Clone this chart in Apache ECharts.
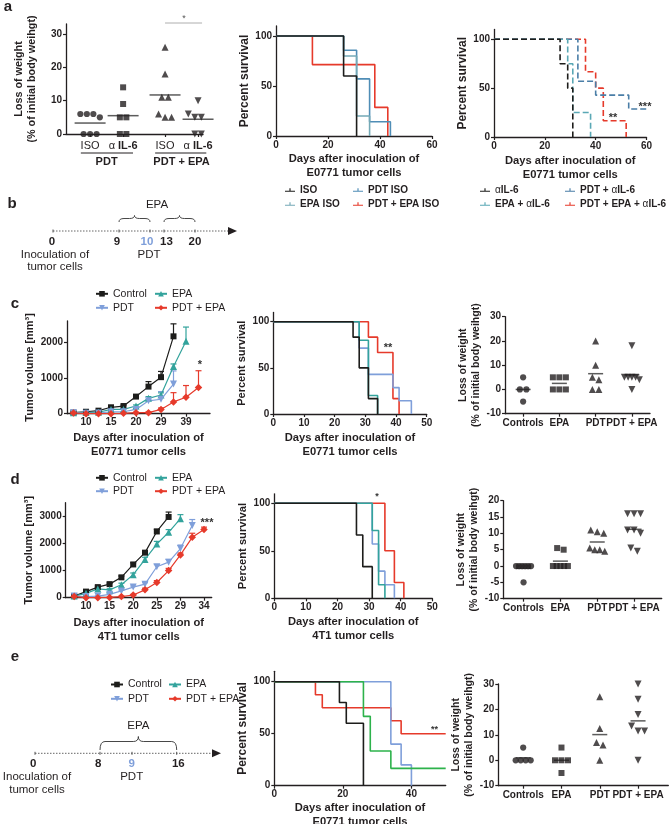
<!DOCTYPE html>
<html><head><meta charset="utf-8">
<script src="https://cdn.jsdelivr.net/npm/echarts@6/dist/echarts.min.js"></script>
<style>html,body{margin:0;padding:0;background:#fff}#c{width:669px;height:824px}</style>
</head><body><div id="c"></div>
<script>
// ================= DATA =================
// Panel a – weight loss
const aCats = ['ISO', 'α IL-6', 'ISO', 'α IL-6'];
const aGroupLabels = ['PDT', 'PDT + EPA'];
const aLossIsoPdt = [6, 6, 5, 6, 0, 0, 0];
const aLossIl6Pdt = [14, 9, 5, 5, 0, 0];
const aLossIsoPdtEpa = [26, 18, 11, 11, 6, 5, 5];
const aLossIl6PdtEpa = [10, 6, 5, 5, 5, 0, 0];
const aLossTicks = [0, 10, 20, 30];
// Panel a – survival (ISO)
const aSurvNames = ['ISO', 'PDT ISO', 'EPA ISO', 'PDT + EPA ISO'];
const aSurvIso = [[0, 100], [26, 60], [31, 0]];
const aSurvPdtIso = [[0, 100], [26, 85.7], [31, 57.1], [36, 14.3], [44, 0]];
const aSurvEpaIso = [[0, 100], [26, 80], [31, 20], [36, 0]];
const aSurvPdtEpaIso = [[0, 100], [14, 71.4], [38, 28.6], [43, 0]];
// Panel a – survival (anti IL-6)
const aIl6Names = ['αIL-6', 'PDT + αIL-6', 'EPA + αIL-6', 'PDT + EPA + αIL-6'];
const aSurvIl6 = [[0, 100], [26, 75], [29, 50], [31, 0]];
const aSurvPdtIl6 = [[0, 100], [33, 57.1], [40, 42.9], [53, 28.6], [60, 28.6]];
const aSurvEpaIl6 = [[0, 100], [29, 75], [31, 25], [38, 0]];
const aSurvPdtEpaIl6 = [[0, 100], [36, 66.7], [40, 50], [43, 16.7], [52, 0]];
const survTicks60 = [0, 20, 40, 60];
const survTicks50 = [0, 10, 20, 30, 40, 50];
const survTicksE = [0, 20, 40];
const survYTicks = [0, 50, 100];

// Panel b / e timelines
const bDays = ['0', '9', '10', '13', '20'];
const eDays = ['0', '8', '9', '16'];

// Group names (c, d, e)
const grpNames = ['Control', 'EPA', 'PDT', 'PDT + EPA'];
const weightCats = ['Controls', 'EPA', 'PDT', 'PDT + EPA'];

// Panel c – tumour growth E0771
const cDayLabels = ['', '10', '', '15', '', '20', '', '29', '', '39', ''];
const cControl = [30, 55, 85, 180, 215, 480, 760, 1025, 2170];
const cControlErr = [10, 10, 15, 20, 25, 40, 140, 160, 350];
const cEPA = [30, 35, 40, 120, 120, 215, 430, 525, 1325, 2030];
const cEPAErr = [10, 10, 10, 20, 20, 30, 50, 60, 70, 400];
const cPDT = [30, 10, 20, 55, 55, 120, 360, 405, 830];
const cPDTErr = [10, 5, 5, 10, 10, 20, 40, 215, 370];
const cPDTEPA = [20, 0, 0, 0, 10, 30, 30, 120, 330, 460, 735];
const cPDTEPAErr = [5, 2, 2, 2, 5, 10, 20, 40, 260, 330, 470];
const cVolTicks = [0, 1000, 2000];
// Panel c – survival
const cSurvControl = [[0, 100], [26, 83.3], [28, 50], [31, 16.7], [34, 0]];
const cSurvEPA = [[0, 100], [28, 80], [31, 20], [34, 0]];
const cSurvPDT = [[0, 100], [28, 71.4], [31, 42.9], [39, 28.6], [41, 14.3], [45, 0]];
const cSurvPDTEPA = [[0, 100], [31, 83.3], [34, 66.7], [39, 16.7], [41, 0]];
// Panel c – weight loss
const cWControls = [5, 0, 0, -5];
const cWEPA = [5, 5, 5, 0, 0, 0];
const cWPDT = [20, 10, 5, 4, 0, 0];
const cWPDTEPA = [18, 5, 5, 5, 5, 4, 0];
const cWTicks = [-10, 0, 10, 20, 30];

// Panel d – tumour growth 4T1
const dDayLabels = ['', '10', '', '15', '', '20', '', '25', '', '29', '', '34'];
const dControl = [60, 225, 390, 500, 750, 1225, 1660, 2440, 2975];
const dControlErr = [30, 40, 40, 40, 50, 60, 70, 80, 180];
const dEPA = [60, 160, 325, 290, 475, 850, 1410, 1975, 2410, 2910];
const dEPAErr = [20, 30, 40, 40, 60, 60, 80, 100, 100, 150];
const dPDT = [60, 40, 60, 125, 250, 390, 500, 1140, 1310, 1810, 2660];
const dPDTErr = [10, 10, 10, 20, 30, 40, 50, 80, 100, 130, 220];
const dPDTEPA = [40, 0, 0, 10, 40, 100, 290, 560, 1000, 1575, 2225, 2510];
const dPDTEPAErr = [10, 5, 5, 5, 10, 20, 60, 70, 80, 70, 150, 90];
const dVolTicks = [0, 1000, 2000, 3000];
// Panel d – survival
const dSurvControl = [[0, 100], [26, 66.7], [28, 33.3], [31, 0]];
const dSurvEPA = [[0, 100], [31, 71.4], [33, 14.3], [35, 0]];
const dSurvPDT = [[0, 100], [31, 57.1], [33, 28.6], [35, 14.3], [38, 0]];
const dSurvPDTEPA = [[0, 100], [35, 50], [38, 16.7], [41, 0]];
// Panel d – weight loss
const dWControls = [0, 0, 0, 0, 0, 0, -5];
const dWEPA = [5.5, 5, 0, 0, 0, 0, 0];
const dWPDT = [11, 10.5, 10, 5.5, 5, 4.5, 5];
const dWPDTEPA = [16, 16, 16, 11, 11, 10, 5.5, 4.5];
const dWTicks = [-10, -5, 0, 5, 10, 15, 20];

// Panel e – survival
const eSurvControl = [[0, 100], [19, 80], [21, 60], [26, 0]];
const eSurvEPA = [[0, 100], [26, 66.7], [28, 33.3], [34, 16.7], [50, 16.7]];
const eSurvPDT = [[0, 100], [34, 40], [37, 20], [40, 0]];
const eSurvPDTEPA = [[0, 100], [12, 87.5], [14, 75], [34, 62.5], [37, 50], [50, 50]];
// Panel e – weight loss
const eWControls = [5, 0, 0, 0, 0];
const eWEPA = [5, 0, 0, 0, -5];
const eWPDT = [25, 12.5, 7, 6, 0];
const eWPDTEPA = [30, 24, 18, 13.5, 11.5, 11.5, 0];
const eWTicks = [-10, 0, 10, 20, 30];

// ================= STYLE / LAYOUT =================
const FONT = '"Liberation Sans", Arial, Helvetica, sans-serif';
const INK = '#231f20';
const C_BLACK = '#1d1d1b', C_TEAL = '#33a39c', C_BLUE = '#7f9fda', C_RED = '#e63a2b', C_GREEN = '#2db24b';
const C_ISO_PDT = '#4f8db6', C_ISO_EPA = '#74a9b6', C_IL6_EPA = '#5aa8b5', C_IL6_PDT = '#4a7ea7';

const grid = [], xAxis = [], yAxis = [], series = [], legend = [], graphic = [];

function addGrid(l, t, w, h) {
  grid.push({ left: l, top: t, width: w, height: h, containLabel: false, outerBoundsMode: 'none' });
  return grid.length - 1;
}
const axLine = () => ({ show: true, onZero: false, lineStyle: { color: INK, width: 1.3 } });
const axTick = (vals) => ({ show: true, length: 3, lineStyle: { color: INK, width: 1.2 }, customValues: vals });
const axLabel = (vals, fmt, extra) => Object.assign({
  show: true, color: INK, fontFamily: FONT, fontWeight: 'bold', fontSize: 10, margin: 4,
  customValues: vals, formatter: fmt
}, extra || {});
const nameStyle = (size, lh) => ({ color: INK, fontFamily: FONT, fontWeight: 'bold', fontSize: size, lineHeight: lh || size + 2 });
const richAlpha = (size) => ({
  n: { fontFamily: FONT, fontWeight: 'normal', fontSize: size, color: INK },
  b: { fontFamily: FONT, fontWeight: 'bold', fontSize: size, color: INK }
});
function alphaRich(name) {
  const parts = name.split('α');
  return parts.map(p => p ? '{b|' + p + '}' : '').join('{n|α}');
}

function swarm(values, center, tolU, stepU, maxU) {
  const sorted = values.slice().sort((a, b) => b - a);
  const clusters = [];
  sorted.forEach(v => {
    const c = clusters[clusters.length - 1];
    if (c && Math.abs(c[0] - v) <= tolU) c.push(v); else clusters.push([v]);
  });
  const pts = [];
  clusters.forEach(c => {
    const n = c.length;
    const st = n > 1 ? Math.min(stepU, maxU / (n - 1)) : 0;
    c.forEach((v, k) => pts.push([center + (k - (n - 1) / 2) * st, v]));
  });
  return pts;
}
const mean = a => a.reduce((s, v) => s + v, 0) / a.length;

// ---------- weight-loss scatter panel ----------
function weightPanel(g, xr, yr, yTicks, catPos, catFmt, groups, yName, yNameGap, meanW, labelOpts, spreadPx) {
  const gi = addGrid(g.l, g.t, g.w, g.h);
  const xi = xAxis.length, yi = yAxis.length;
  const pxX = g.w / (xr[1] - xr[0]), pxY = g.h / (yr[1] - yr[0]);
  xAxis.push({
    gridIndex: gi, type: 'value', min: xr[0], max: xr[1], splitLine: { show: false },
    axisLine: axLine(), axisTick: axTick(catPos),
    axisLabel: axLabel(catPos, catFmt, labelOpts || { margin: 5 })
  });
  yAxis.push({
    gridIndex: gi, type: 'value', min: yr[0], max: yr[1], splitLine: { show: false },
    axisLine: axLine(), axisTick: axTick(yTicks), axisLabel: axLabel(yTicks, v => String(v)),
    name: yName, nameLocation: 'middle', nameGap: yNameGap, nameTextStyle: nameStyle(10.5, 13)
  });
  groups.forEach((grp, i) => {
    series.push({
      type: 'scatter', xAxisIndex: xi, yAxisIndex: yi, silent: true, z: 3,
      data: swarm(grp.values, catPos[i], 5.5 / pxY, 6.5 / pxX, (spreadPx || 15) / pxX),
      symbol: grp.symbol, symbolSize: grp.size, symbolRotate: grp.rotate || 0,
      itemStyle: { color: INK }
    });
    series.push({
      type: 'scatter', xAxisIndex: xi, yAxisIndex: yi, silent: true, z: 2,
      data: [[catPos[i], mean(grp.values)]], symbol: 'rect', symbolSize: [meanW, 1.5],
      itemStyle: { color: '#333' }
    });
  });
  return { gi, xi, yi };
}
const symSet = [
  { symbol: 'circle', size: 6.2 }, { symbol: 'rect', size: 6 },
  { symbol: 'triangle', size: 7 }, { symbol: 'triangle', size: 7, rotate: 180 }
];

// ---------- survival panel ----------
function survivalPanel(g, xMax, xTicks, curves, yNameGap, yNameSize, xName, xNameGap) {
  const gi = addGrid(g.l, g.t, g.w, g.h);
  const xi = xAxis.length, yi = yAxis.length;
  xAxis.push({
    gridIndex: gi, type: 'value', min: 0, max: xMax, splitLine: { show: false },
    axisLine: axLine(), axisTick: axTick(xTicks), axisLabel: axLabel(xTicks, v => String(v)),
    name: xName, nameLocation: 'middle', nameGap: xNameGap, nameTextStyle: nameStyle(11.2, 14)
  });
  yAxis.push({
    gridIndex: gi, type: 'value', min: 0, max: 110, splitLine: { show: false },
    axisLine: axLine(), axisTick: axTick(survYTicks), axisLabel: axLabel(survYTicks, v => String(v)),
    name: 'Percent survival', nameLocation: 'middle', nameGap: yNameGap, nameTextStyle: nameStyle(yNameSize)
  });
  curves.forEach(c => {
    series.push({
      type: 'line', name: c.name, xAxisIndex: xi, yAxisIndex: yi, data: c.data, step: 'end',
      symbol: 'none', silent: true, z: 2,
      lineStyle: { color: c.color, width: 1.6, type: c.dashed ? [6, 3] : 'solid' },
      itemStyle: { color: c.color }
    });
  });
}

// ---------- growth panel ----------
function growthPanel(g, xr, yr, yTicks, dayLabels, groups, yNameGap, xName, xNameGap) {
  const gi = addGrid(g.l, g.t, g.w, g.h);
  const xi = xAxis.length, yi = yAxis.length;
  const lblIdx = dayLabels.map((d, i) => d ? i : -1).filter(i => i >= 0);
  xAxis.push({
    gridIndex: gi, type: 'value', min: xr[0], max: xr[1], splitLine: { show: false },
    axisLine: axLine(), axisTick: axTick(lblIdx),
    axisLabel: axLabel(lblIdx, v => dayLabels[Math.round(v)] || ''),
    name: xName, nameLocation: 'middle', nameGap: xNameGap, nameTextStyle: nameStyle(11.2, 14)
  });
  yAxis.push({
    gridIndex: gi, type: 'value', min: yr[0], max: yr[1], splitLine: { show: false },
    axisLine: axLine(), axisTick: axTick(yTicks), axisLabel: axLabel(yTicks, v => String(v)),
    name: 'Tumor volume [mm³]', nameLocation: 'middle', nameGap: yNameGap, nameTextStyle: nameStyle(11)
  });
  groups.forEach(grp => {
    const col = grp.color;
    series.push({
      type: 'custom', name: grp.name + ' sem', xAxisIndex: xi, yAxisIndex: yi, silent: true, z: 2,
      data: grp.values.map((v, i) => [i, v, grp.errs[i]]),
      renderItem: (params, api) => {
        const x = api.value(0), y = api.value(1), e = api.value(2);
        const p0 = api.coord([x, y]), p1 = api.coord([x, y + e]);
        return {
          type: 'group', children: [
            { type: 'line', shape: { x1: p0[0], y1: p0[1], x2: p1[0], y2: p1[1] }, style: { stroke: col, lineWidth: 1.2 } },
            { type: 'line', shape: { x1: p1[0] - 3, y1: p1[1], x2: p1[0] + 3, y2: p1[1] }, style: { stroke: col, lineWidth: 1.2 } }
          ]
        };
      }
    });
    series.push({
      type: 'line', name: grp.name, xAxisIndex: xi, yAxisIndex: yi, silent: true, z: 3,
      data: grp.values.map((v, i) => [i, v]),
      symbol: grp.symbol, symbolSize: grp.size, symbolRotate: grp.rotate || 0,
      lineStyle: { color: col, width: 1.2 }, itemStyle: { color: col }
    });
  });
}

// ================= PANEL a =================
{
  const aPos = [0.73, 1.73, 3.0, 4.0];
  const xr = [0, 4.15];
  const g = { l: 66, t: 24, w: 137, h: 110 };
  const fmt = v => { const i = aPos.findIndex(p => Math.abs(p - v) < 1e-6); return i < 0 ? '' : (aCats[i].indexOf('α') >= 0 ? '{n|α} {b|IL-6}' : '{n|' + aCats[i] + '}'); };
  const r = weightPanel(g, xr, [0, 33], aLossTicks, aPos, fmt, [
    Object.assign({ values: aLossIsoPdt }, symSet[0]),
    Object.assign({ values: aLossIl6Pdt }, symSet[1]),
    Object.assign({ values: aLossIsoPdtEpa }, symSet[2]),
    Object.assign({ values: aLossIl6PdtEpa }, symSet[3])
  ], 'Loss of weight\n(% of initial body weihgt)', 27, 31, { margin: 6, rich: richAlpha(11), fontSize: 11 }, 23);
  yAxis[r.yi].nameTextStyle = nameStyle(10.8, 13);
  const gPos = [(aPos[0] + aPos[1]) / 2, (aPos[2] + aPos[3]) / 2];
  xAxis.push({
    gridIndex: r.gi, type: 'value', min: xr[0], max: xr[1], position: 'bottom', splitLine: { show: false },
    axisLine: { show: false }, axisTick: { show: false },
    axisLabel: axLabel(gPos, v => { const i = gPos.findIndex(p => Math.abs(p - v) < 1e-6); return i < 0 ? '' : aGroupLabels[i]; }, { margin: 22, fontSize: 11 })
  });
  const px = p => g.l + (p - xr[0]) * g.w / (xr[1] - xr[0]);
  [[aPos[0] - 0.28, aPos[1] + 0.3], [aPos[2] - 0.3, aPos[3] + 0.25]].forEach(([p1, p2]) => {
    graphic.push({ type: 'line', silent: true, shape: { x1: px(p1), y1: 153, x2: px(p2), y2: 153 }, style: { stroke: INK, lineWidth: 1 } });
  });
  // significance bracket
  graphic.push({ type: 'line', silent: true, shape: { x1: px(aPos[2]), y1: 23, x2: px(aPos[3]) + 4, y2: 23 }, style: { stroke: '#999', lineWidth: 0.8 } });
}
survivalPanel({ l: 276, t: 26, w: 156, h: 110 }, 60, survTicks60, [
  { name: aSurvNames[3], data: aSurvPdtEpaIso, color: C_RED },
  { name: aSurvNames[1], data: aSurvPdtIso, color: C_ISO_PDT },
  { name: aSurvNames[2], data: aSurvEpaIso, color: C_ISO_EPA },
  { name: aSurvNames[0], data: aSurvIso, color: C_BLACK }
], 22, 12, 'Days after inoculation of\nE0771 tumor cells', 16);
survivalPanel({ l: 494, t: 29.5, w: 152.5, h: 107.5 }, 60, survTicks60, [
  { name: aIl6Names[3], data: aSurvPdtEpaIl6, color: C_RED, dashed: true },
  { name: aIl6Names[1], data: aSurvPdtIl6, color: C_IL6_PDT, dashed: true },
  { name: aIl6Names[2], data: aSurvEpaIl6, color: C_IL6_EPA, dashed: true },
  { name: aIl6Names[0], data: aSurvIl6, color: C_BLACK, dashed: true }
], 19, 12, 'Days after inoculation of\nE0771 tumor cells', 17);

// ================= PANEL c =================
const grpStyle = [
  { color: C_BLACK, symbol: 'rect', size: 6 },
  { color: C_TEAL, symbol: 'triangle', size: 7 },
  { color: C_BLUE, symbol: 'triangle', size: 7, rotate: 180 },
  { color: C_RED, symbol: 'diamond', size: 7.5 }
];
const mk = (i, values, errs) => Object.assign({ name: grpNames[i], values, errs }, grpStyle[i]);
growthPanel({ l: 67, t: 321, w: 143, h: 92.7 }, [-0.52, 10.92], [0, 2600], cVolTicks, cDayLabels, [
  mk(0, cControl, cControlErr), mk(1, cEPA, cEPAErr), mk(2, cPDT, cPDTErr), mk(3, cPDTEPA, cPDTEPAErr)
], 29, 'Days after inoculation of\nE0771 tumor cells', 17);
survivalPanel({ l: 273.3, t: 312.5, w: 153.4, h: 101.5 }, 50, survTicks50, [
  { name: grpNames[3], data: cSurvPDTEPA, color: C_RED },
  { name: grpNames[2], data: cSurvPDT, color: C_BLUE },
  { name: grpNames[1], data: cSurvEPA, color: C_TEAL },
  { name: grpNames[0], data: cSurvControl, color: C_BLACK }
], 20, 11, 'Days after inoculation of\nE0771 tumor cells', 17);
const wFmt = pos => v => { const i = pos.findIndex(p => Math.abs(p - v) < 1e-6); return i < 0 ? '' : weightCats[i]; };
const wPos = [0.5, 1.5, 2.5, 3.5];
weightPanel({ l: 505, t: 316.7, w: 145, h: 97 }, [0, 4], [-10, 30], cWTicks, wPos, wFmt(wPos), [
  Object.assign({ values: cWControls }, symSet[0]), Object.assign({ values: cWEPA }, symSet[1]),
  Object.assign({ values: cWPDT }, symSet[2]), Object.assign({ values: cWPDTEPA }, symSet[3])
], 'Loss of weight\n(% of initial body weihgt)', 21, 15);

// ================= PANEL d =================
growthPanel({ l: 65.7, t: 502.7, w: 146, h: 95 }, [-0.72, 11.65], [0, 3500], dVolTicks, dDayLabels, [
  mk(0, dControl, dControlErr), mk(1, dEPA, dEPAErr), mk(2, dPDT, dPDTErr), mk(3, dPDTEPA, dPDTEPAErr)
], 28, 'Days after inoculation of\n4T1 tumor cells', 18);
survivalPanel({ l: 274.3, t: 493.8, w: 158, h: 104.5 }, 50, survTicks50, [
  { name: grpNames[3], data: dSurvPDTEPA, color: C_RED },
  { name: grpNames[2], data: dSurvPDT, color: C_BLUE },
  { name: grpNames[1], data: dSurvEPA, color: C_TEAL },
  { name: grpNames[0], data: dSurvControl, color: C_BLACK }
], 21, 11.2, 'Days after inoculation of\n4T1 tumor cells', 17);
weightPanel({ l: 503.3, t: 500.7, w: 158.4, h: 98 }, [-0.05, 4.25], [-10, 20], dWTicks, wPos, wFmt(wPos), [
  Object.assign({ values: dWControls }, symSet[0]), Object.assign({ values: dWEPA }, symSet[1]),
  Object.assign({ values: dWPDT }, symSet[2]), Object.assign({ values: dWPDTEPA }, symSet[3])
], 'Loss of weight\n(% of initial body weihgt)', 18, 15);

// ================= PANEL e =================
survivalPanel({ l: 274.3, t: 671.3, w: 171.4, h: 114.4 }, 50, survTicksE, [
  { name: grpNames[3], data: eSurvPDTEPA, color: C_RED },
  { name: grpNames[2], data: eSurvPDT, color: C_BLUE },
  { name: grpNames[1], data: eSurvEPA, color: C_GREEN },
  { name: grpNames[0], data: eSurvControl, color: C_BLACK }
], 19, 12, 'Days after inoculation of\nE0771 tumor cells', 15);
weightPanel({ l: 498.3, t: 684, w: 170, h: 101.7 }, [-0.15, 4.29], [-10, 30], eWTicks, wPos, wFmt(wPos), [
  Object.assign({ values: eWControls }, symSet[0]), Object.assign({ values: eWEPA }, symSet[1]),
  Object.assign({ values: eWPDT }, symSet[2]), Object.assign({ values: eWPDTEPA }, symSet[3])
], 'Loss of weight\n(% of initial body weihgt)', 10, 15);

// ================= LEGENDS =================
const tickIcon = 'path://M0,6H14V7.6H0Z M6.2,2.5H7.8V7.6H6.2Z';
function addLegend(name, left, cy, kind) {
  const base = { data: [name], left: left, top: cy - 6, orient: 'horizontal', padding: 0, selectedMode: false, itemGap: 0 };
  if (kind === 'tick') {
    Object.assign(base, {
      icon: tickIcon, itemWidth: 10, itemHeight: 7,
      textStyle: { color: INK, fontFamily: FONT, fontWeight: 'bold', fontSize: 10, rich: richAlpha(10) },
      formatter: n => alphaRich(n)
    });
  } else {
    Object.assign(base, {
      itemWidth: 12, itemHeight: 7,
      textStyle: { color: INK, fontFamily: FONT, fontWeight: 'normal', fontSize: 10.5 }
    });
  }
  legend.push(base);
}
addLegend(aSurvNames[0], 285, 191, 'tick'); addLegend(aSurvNames[1], 353, 191, 'tick');
addLegend(aSurvNames[2], 285, 205, 'tick'); addLegend(aSurvNames[3], 353, 205, 'tick');
addLegend(aIl6Names[0], 480, 191, 'tick'); addLegend(aIl6Names[1], 565, 191, 'tick');
addLegend(aIl6Names[2], 480, 205, 'tick'); addLegend(aIl6Names[3], 565, 205, 'tick');
[[95, 154, 294.3, 308.3], [95, 154, 478.3, 491.7], [110, 168, 685, 699.3]].forEach(([x1, x2, y1, y2]) => {
  addLegend(grpNames[0], x1, y1); addLegend(grpNames[1], x2, y1);
  addLegend(grpNames[2], x1, y2); addLegend(grpNames[3], x2, y2);
});

// ================= GRAPHIC (letters, timelines, significance) =================
function T(text, x, y, size, weight, color) {
  return {
    type: 'text', silent: true, style: {
      text, x, y, fill: color || INK, fontSize: size, fontWeight: weight || 'normal', fontFamily: FONT,
      align: 'center', verticalAlign: 'middle', textAlign: 'center', textVerticalAlign: 'middle'
    }
  };
}
function brace(x1, x2, yB, arm, tip) {
  const xm = (x1 + x2) / 2, r = Math.min(5, (x2 - x1) / 6);
  const st = { stroke: '#333', lineWidth: 0.9, fill: null };
  const bz = (ax, ay, cx, cy, bx, by) => ({ type: 'bezierCurve', silent: true, shape: { x1: ax, y1: ay, cpx1: cx, cpy1: cy, x2: bx, y2: by }, style: st });
  const ln = (ax, ay, bx, by) => ({ type: 'line', silent: true, shape: { x1: ax, y1: ay, x2: bx, y2: by }, style: st });
  return [
    bz(x1, yB + arm, x1, yB, x1 + r, yB), ln(x1 + r, yB, xm - r, yB),
    bz(xm - r, yB, xm, yB, xm, yB - tip), bz(xm, yB - tip, xm, yB, xm + r, yB),
    ln(xm + r, yB, x2 - r, yB), bz(x2 - r, yB, x2, yB, x2, yB + arm)
  ];
}
function timeline(x0, x1, y, tickXs) {
  const els = [{ type: 'line', silent: true, shape: { x1: x0, y1: y, x2: x1, y2: y }, style: { stroke: '#666', lineWidth: 1, lineDash: [1.5, 1.5] } },
  { type: 'polygon', silent: true, shape: { points: [[x1 - 1, y - 4], [x1 + 8, y], [x1 - 1, y + 4]] }, style: { fill: INK } }];
  tickXs.forEach(x => els.push({ type: 'line', silent: true, shape: { x1: x, y1: y - 1.5, x2: x, y2: y + 1.5 }, style: { stroke: '#555', lineWidth: 1 } }));
  return els;
}
// panel letters
graphic.push(T('a', 8, 7, 15, 'bold'), T('b', 12, 204, 15, 'bold'), T('c', 15, 304, 15, 'bold'),
  T('d', 15, 480, 15, 'bold'), T('e', 15, 657, 15, 'bold'));
// panel b timeline
graphic.push(...timeline(53, 229, 231, [53, 119, 150, 164, 195]));
graphic.push(...brace(119, 150, 218.5, 3.5, 3), ...brace(164, 195, 218.5, 3.5, 3));
graphic.push(T('EPA', 157, 204.5, 11.5));
const bX = [52, 117, 147, 166.5, 195];
bDays.forEach((d, i) => graphic.push(T(d, bX[i], 241.5, 11.5, 'bold', d === '10' ? C_BLUE : INK)));
graphic.push(T('Inoculation of', 55, 255, 11.5), T('tumor cells', 55, 267, 11.5), T('PDT', 149, 255, 11.5));
// panel e timeline
graphic.push(...timeline(35, 213, 753.3, [35, 100, 132, 176.7]));
graphic.push(...brace(100, 176.7, 741.5, 8.5, 5));
graphic.push(T('EPA', 138.3, 725.7, 11.5));
const eX = [33.3, 98.3, 131.7, 178.3];
eDays.forEach((d, i) => graphic.push(T(d, eX[i], 764, 11.5, 'bold', d === '9' ? C_BLUE : INK)));
graphic.push(T('Inoculation of', 37, 777, 11.5), T('tumor cells', 37, 789.5, 11.5), T('PDT', 131.7, 777, 11.5));
// significance marks
graphic.push(T('*', 184, 19, 9, 'normal', '#555'),
  T('**', 613, 118, 11, 'bold', '#333'), T('***', 645, 107, 11, 'bold', '#333'),
  T('*', 200, 365, 11, 'bold', '#333'), T('**', 388, 348, 11, 'bold', '#333'),
  T('***', 207, 523, 11, 'bold', '#333'), T('*', 377, 497, 9, 'bold', '#333'),
  T('**', 434.5, 730, 9, 'bold', '#333'));

const chart = echarts.init(document.getElementById('c'));
chart.setOption({
  animation: false, backgroundColor: '#fff',
  textStyle: { fontFamily: FONT },
  grid, xAxis, yAxis, series, legend, graphic
});
</script></body></html>
